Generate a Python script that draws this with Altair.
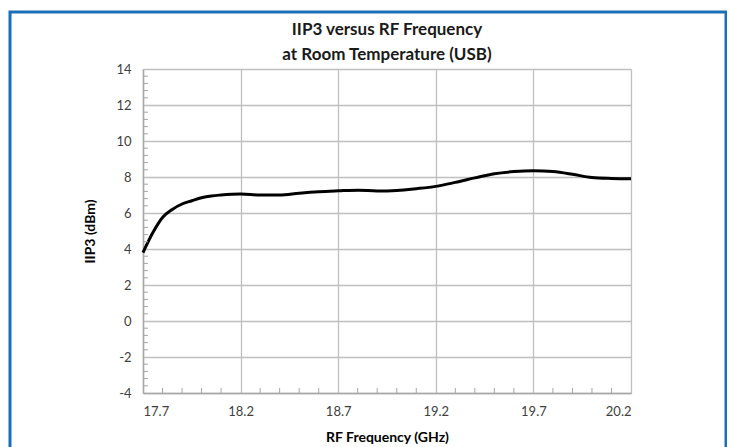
import altair as alt
import pandas as pd

# ---- data ----
freq_ghz = [17.70, 17.75, 17.80, 17.85, 17.90, 17.95, 18.00, 18.05, 18.10, 18.20,
            18.30, 18.40, 18.50, 18.60, 18.70, 18.80, 18.90, 19.00, 19.10, 19.20,
            19.30, 19.40, 19.50, 19.60, 19.70, 19.80, 19.90, 20.00, 20.10, 20.20]
iip3_dbm = [3.80, 4.90, 5.75, 6.20, 6.50, 6.68, 6.85, 6.95, 7.00, 7.05,
            7.00, 7.00, 7.10, 7.18, 7.23, 7.27, 7.22, 7.25, 7.35, 7.48,
            7.70, 7.95, 8.18, 8.30, 8.35, 8.30, 8.15, 7.97, 7.92, 7.90]

x_major = [17.7, 18.2, 18.7, 19.2, 19.7, 20.2]
y_major = [-4, -2, 0, 2, 4, 6, 8, 10, 12, 14]
x_minor = [17.8, 17.9, 18.0, 18.1, 18.3, 18.4, 18.5, 18.6, 18.8, 18.9, 19.0, 19.1,
           19.3, 19.4, 19.5, 19.6, 19.8, 19.9, 20.0, 20.1]
y_minor = [-3.6, -3.2, -2.8, -2.4, -1.6, -1.2, -0.8, -0.4, 0.4, 0.8, 1.2, 1.6,
           2.4, 2.8, 3.2, 3.6, 4.4, 4.8, 5.2, 5.6, 6.4, 6.8, 7.2, 7.6,
           8.4, 8.8, 9.2, 9.6, 10.4, 10.8, 11.2, 11.6, 12.4, 12.8, 13.2, 13.6]

W, H = 488, 324
FONT = "Lato"

df = pd.DataFrame({"freq": freq_ghz, "iip3": iip3_dbm})
xs = alt.Scale(domain=[17.7, 20.2], nice=False, zero=False)
ys = alt.Scale(domain=[-4, 14], nice=False, zero=False)

x_axis = alt.Axis(values=x_major, format=".1f", title="RF Frequency (GHz)",
                  grid=True, ticks=False, labelPadding=12,
                  titleX=W / 2, titleY=44, titleBaseline="middle", titleAlign="center")
y_axis = alt.Axis(values=y_major, labelExpr="toString(datum.value)", title="IIP3 (dBm)",
                  grid=True, ticks=False, labelPadding=12,
                  titleX=-53, titleY=H / 2, titleAngle=-90,
                  titleBaseline="middle", titleAlign="center")

line = alt.Chart(df).mark_line(color="black", strokeWidth=3, interpolate="monotone").encode(
    x=alt.X("freq:Q", scale=xs, axis=x_axis),
    y=alt.Y("iip3:Q", scale=ys, axis=y_axis),
)

xminor = alt.Chart(pd.DataFrame({"m": x_minor})).mark_rule(color="#a6a6a6", strokeWidth=1).encode(
    x=alt.X("m:Q", scale=xs, axis=x_axis),
    y=alt.value(H), y2=alt.value(H - 5),
)
yminor = alt.Chart(pd.DataFrame({"m": y_minor})).mark_rule(color="#a6a6a6", strokeWidth=1).encode(
    y=alt.Y("m:Q", scale=ys, axis=y_axis),
    x=alt.value(0), x2=alt.value(5),
)

border = alt.Chart(pd.DataFrame({"b": [0]})).mark_rect(
    fill=None, fillOpacity=0, stroke="#1a70b8", strokeWidth=3
).encode(
    x=alt.value(-133), x2=alt.value(583), y=alt.value(-57), y2=alt.value(420),
)

chart = alt.layer(line, xminor, yminor, border).properties(
    width=W, height=H,
    title=alt.Title(["IIP3 versus RF Frequency", "at Room Temperature (USB)"],
                    font=FONT, fontSize=17, fontWeight="bold", color="#1a1a1a",
                    lineHeight=25, anchor="middle", offset=-53),
    autosize=alt.AutoSizeParams(type="none"),
    padding={"left": 135, "top": 61, "right": 96, "bottom": 54},
).configure_view(stroke=None).configure_axis(
    labelFont=FONT, labelFontSize=13, labelColor="#404040",
    titleFont=FONT, titleFontSize=14, titleFontWeight="bold", titleColor="#000000",
    gridColor="#bfbfbf", gridWidth=1.3, domainColor="#a6a6a6", domainWidth=1.5,
)

chart.save("out.html", embed_options={"renderer": "svg", "actions": False})
